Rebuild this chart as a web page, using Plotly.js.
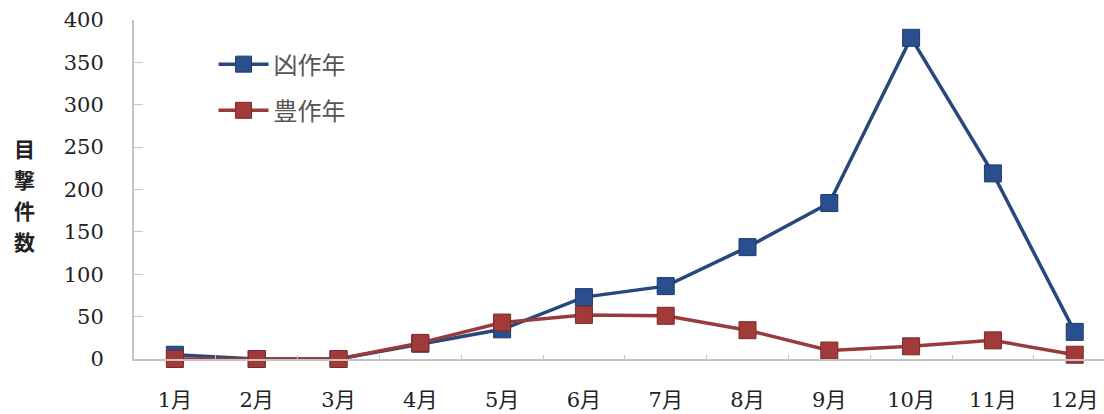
<!DOCTYPE html>
<html>
<head>
<meta charset="utf-8">
<script src="https://cdn.plot.ly/plotly-3.0.1.min.js"></script>
<style>html,body{margin:0;padding:0;background:#fff;}#chart{width:1104px;height:414px;}</style>
</head>
<body>
<div id="chart"></div>
<script>
var months = ["1月","2月","3月","4月","5月","6月","7月","8月","9月","10月","11月","12月"];
var badYear = [5, 0, 0, 18, 35, 73, 86, 132, 184, 379, 219, 32];
var goodYear = [0, 0, 0, 19, 43, 52, 51, 34, 10, 15, 22, 5];
var seriesNames = ["凶作年", "豊作年"];
var yTitleChars = ["目", "撃", "件", "数"];

var serif = "DejaVu Serif, Noto Sans CJK JP, serif";
var traces = [
  {x: months, y: badYear, name: seriesNames[0], type: "scatter", mode: "lines+markers",
   legendgroup: "a", cliponaxis: false,
   line: {color: "#27477f", width: 3.5},
   marker: {symbol: "square", size: 17, color: "#2a4f8f", line: {color: "#1f3b6b", width: 1}}},
  {x: months, y: goodYear, name: seriesNames[1], type: "scatter", mode: "lines+markers",
   legendgroup: "b", cliponaxis: false,
   line: {color: "#9a3a3a", width: 3.5},
   marker: {symbol: "square", size: 17, color: "#a33a3a", line: {color: "#7a2a2a", width: 1}}}
];

var annotations = yTitleChars.map(function (c, i) {
  return {text: c, xref: "paper", yref: "paper", x: 0, y: 1, xanchor: "center", yanchor: "middle",
    xshift: -110, showarrow: false,
    font: {family: "Noto Sans CJK JP, sans-serif", size: 21, color: "#222", weight: 700},
    yshift: -128 - i * 31};
});

var layout = {
  width: 1104, height: 414,
  margin: {l: 134, r: 0, t: 20, b: 55},
  paper_bgcolor: "#ffffff", plot_bgcolor: "#ffffff",
  showlegend: true,
  legend: {x: 0.082, y: 0.935, xanchor: "left", yanchor: "top", tracegroupgap: 12,
    traceorder: "grouped", itemwidth: 50,
    font: {family: "Noto Sans CJK JP, sans-serif", size: 24, color: "#555"},
    bgcolor: "rgba(0,0,0,0)"},
  xaxis: {type: "category", range: [-0.5, 11.358], showgrid: false, zeroline: false,
    showline: true, linecolor: "#c4c4c4", linewidth: 2,
    ticks: "inside", ticklen: 4, tickcolor: "#c4c4c4", tickson: "boundaries",
    tickfont: {family: serif, size: 21, color: "#222"}, ticklabelstandoff: 21},
  yaxis: {range: [0, 400], tickvals: [0, 50, 100, 150, 200, 250, 300, 350, 400],
    showgrid: false, zeroline: false, showline: true, linecolor: "#c4c4c4", linewidth: 2,
    ticks: "inside", ticklen: 9, tickcolor: "#c8c8c8",
    tickfont: {family: serif, size: 21, color: "#222"}, ticklabelstandoff: 24},
  annotations: annotations
};

Plotly.newPlot("chart", traces, layout, {displayModeBar: false, staticPlot: true});
</script>
</body>
</html>
